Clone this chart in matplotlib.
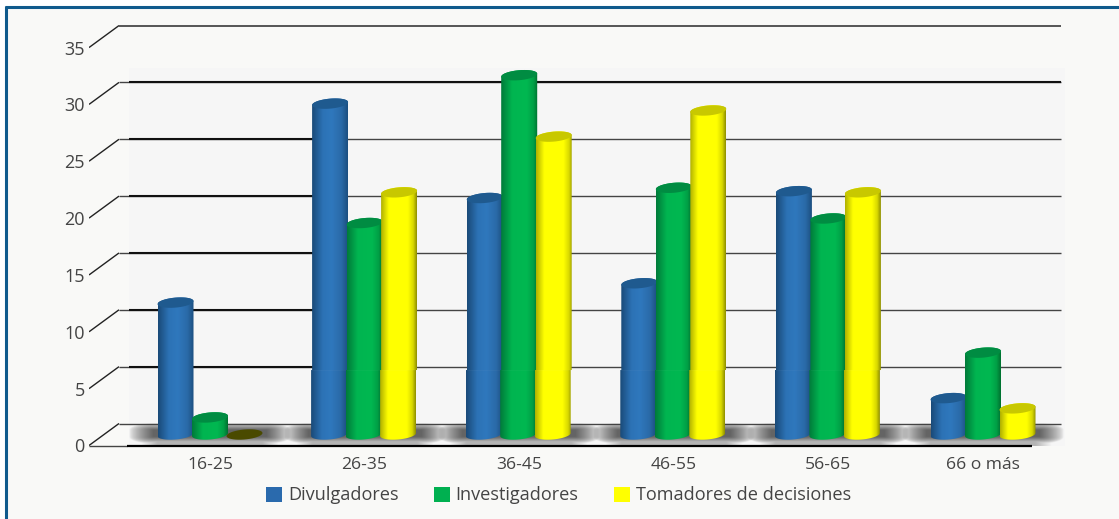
#!/usr/bin/env python

import numpy as np
import matplotlib
matplotlib.use('Agg')
import matplotlib.pyplot as plt
from matplotlib.colors import LinearSegmentedColormap
from matplotlib.lines import Line2D
from matplotlib.patches import PathPatch, Polygon, Rectangle
from matplotlib.path import Path

categories = ['16-25', '26-35', '36-45', '46-55', '56-65', '66 o más']
divulgadores = [11.6, 29.1, 20.8, 13.3, 21.4, 3.2]
investigadores = [1.5, 18.6, 31.6, 21.7, 19.0, 7.2]
tomadores = [0.0, 21.3, 26.2, 28.5, 21.3, 2.3]
series_names = ['Divulgadores', 'Investigadores', 'Tomadores de decisiones']
yticks = [0, 5, 10, 15, 20, 25, 30, 35]

W, H = 1119, 519
# pixel geometry of the plot box
LEFT, RIGHT, TOP, BOTTOM = 89, 1065, 19.1, 445.5
PX_PER_CAT = 154.6
PX_PER_VAL = 11.37
CAT0 = 210
DEPTH_X, DEPTH_Y = 30, 22
BAR_W, BAR_STEP = 36, 34.5
FLOOR_Y = 11

plt.rcParams['font.family'] = 'Open Sans'
fig = plt.figure(figsize=(W / 100, H / 100), dpi=100, facecolor='white')

# page with a blue frame on top and left only
fig.add_artist(Rectangle((6 / W, 0), 1, 1 - 7 / H, transform=fig.transFigure,
                         fc='#f9f9f7', ec='none', zorder=-3))
fig.add_artist(Line2D([6 / W, 6 / W], [0, 1 - 6 / H], transform=fig.transFigure,
                      color='#0f5a8c', lw=2.2, zorder=-2, solid_capstyle='butt'))
fig.add_artist(Line2D([5 / W, 1], [1 - 7 / H, 1 - 7 / H], transform=fig.transFigure,
                      color='#0f5a8c', lw=2.2, zorder=-2, solid_capstyle='butt'))

ax = fig.add_axes([LEFT / W, 1 - BOTTOM / H, (RIGHT - LEFT) / W, (BOTTOM - TOP) / H])
ax.patch.set_alpha(0)
for s in ax.spines.values():
  s.set_visible(False)


def cat_px(px):
  return px / PX_PER_CAT


def val_px(px):
  return px / PX_PER_VAL


def x_of(px):
  return (px - CAT0) / PX_PER_CAT


# lighter back panel
ax.add_patch(Rectangle((x_of(129), 0), cat_px(936), val_px(BOTTOM - 68), fc='#f6f6f6', ec='none', zorder=0))

# back wall lines and the slanted ticks
for v in yticks:
  yb = v + val_px(DEPTH_Y)
  ax.plot([x_of(LEFT), x_of(LEFT + DEPTH_X)], [v, yb], color='#222222', lw=1, zorder=1, solid_capstyle='butt')
  ax.plot([x_of(119), x_of(1061)], [yb, yb], color='#555555' if v == 35 else '#444444',
          lw=1.4 if v == 35 else 1.0, zorder=1, solid_capstyle='butt')
  if v not in (0, 35):
    end = 1061 if v == 30 else 313
    ax.plot([x_of(129), x_of(end)], [yb, yb], color='#111111', lw=1.5, zorder=1, solid_capstyle='butt')

# soft shadows on the floor, a blurred box rather than an ellipse
nx, ny = 320, 60
xx, yy = np.meshgrid(np.linspace(-1, 1, nx), np.linspace(-1, 1, ny))
dx = np.clip(np.abs(xx) - 0.7, 0, None) / 0.3
dy = np.clip(np.abs(yy + 0.1) - 0.3, 0, None) / 0.6
alpha = 0.8 * np.clip(1.0 - np.sqrt(dx ** 2 + dy ** 2), 0, 1) ** 0.7
# the floor stays grey down to the axis
band = yy > 0.3
alpha[band] = np.maximum(alpha[band], 0.36 * np.clip((0.85 - np.abs(xx[band])) / 0.2, 0, 1))
shadow = np.zeros((ny, nx, 4))
shadow[..., :3] = 0.25
shadow[..., 3] = alpha
for i in range(len(categories)):
  ax.imshow(shadow, extent=(i - cat_px(81), i + cat_px(81), val_px(0), val_px(22.5)),
            aspect='auto', zorder=2, interpolation='bilinear')

# cylinders
cmaps = [
  LinearSegmentedColormap.from_list('blue', [(0, '#1a4a78'), (0.3, '#2c72b5'), (0.55, '#2f78bd'), (0.82, '#2a6aa8'), (1, '#1c4f80')]),
  LinearSegmentedColormap.from_list('green', [(0, '#007a3a'), (0.3, '#00b550'), (0.7, '#00b851'), (0.88, '#00a046'), (1, '#00702f')]),
  LinearSegmentedColormap.from_list('yellow', [(0, '#b0b000'), (0.22, '#ffff00'), (0.75, '#ffff00'), (0.9, '#d8d800'), (1, '#8f8f00')]),
]
top_colors = ['#1f5a8f', '#008c42', '#c8c800']
legend_colors = ['#2a6aad', '#00b050', '#ffff00']
grad = np.linspace(0, 1, 128).reshape(1, -1)
SEAM = 5.67


def ellipse_pts(cx, cy, w, h, tilt, t):
  xs = cx + cat_px(w / 2) * np.cos(t)
  ys = cy + val_px(h / 2) * np.sin(t) + val_px(tilt) * np.cos(t)
  return np.column_stack([xs, ys])


def arc(cx, cy, a, b):
  return ellipse_pts(cx, cy, BAR_W, 10, 1.5, np.linspace(a, b, 40))


def draw_body(cx, y0, y1, curved_bottom, curved_top, cmap, order):
  half = cat_px(BAR_W / 2)
  if curved_bottom:
    low = arc(cx, y0, np.pi, 2 * np.pi)
  else:
    low = np.array([[cx - half, y0], [cx + half, y0]])
  if curved_top:
    up = arc(cx, y1, 0, np.pi)
  else:
    up = np.array([[cx + half, y1], [cx - half, y1]])
  pts = np.vstack([low, up, low[:1]])
  im = ax.imshow(grad, extent=(cx - half, cx + half, y0 - val_px(6), y1 + val_px(6)),
                 cmap=cmap, aspect='auto', zorder=order, vmin=0, vmax=1)
  im.set_clip_path(PathPatch(Path(pts), transform=ax.transData))


def draw_cylinder(cx, value, cmap, top_color, order, joint):
  base = val_px(FLOOR_Y)
  top = base + value
  tpts = arc(cx, top, 0, 2 * np.pi)
  if value <= 0:
    ax.add_patch(Polygon(tpts, closed=True, fc='#4a4a00', ec='none', zorder=order))
    return
  if joint:
    # the picture has a visible joint low on the tall cylinders
    draw_body(cx, base + SEAM, top, False, True, cmap, order)
    draw_body(cx - cat_px(1), base, base + SEAM, True, False, cmap, order + 0.005)
  else:
    draw_body(cx, base, top, True, True, cmap, order)
  ax.add_patch(Polygon(tpts, closed=True, fc=top_color, ec='none', zorder=order + 0.01))


all_series = [divulgadores, investigadores, tomadores]
for i in range(len(categories)):
  for s, values in enumerate(all_series):
    cx = i + cat_px((s - 1) * BAR_STEP)
    draw_cylinder(cx, values[i], cmaps[s], top_colors[s], 3 + s * 0.1, 0 < i < 5)

# front axis line
ax.plot([x_of(LEFT), x_of(127)], [0, 0], color='#444444', lw=1.0, zorder=6, clip_on=False, solid_capstyle='butt')
ax.plot([x_of(127), x_of(1032)], [0, 0], color='#000000', lw=1.6, zorder=6, clip_on=False, solid_capstyle='butt')

ax.set_xlim((LEFT - CAT0) / PX_PER_CAT, (RIGHT - CAT0) / PX_PER_CAT)
ax.set_ylim(0, (BOTTOM - TOP) / PX_PER_VAL)

ax.set_yticks(yticks)
ax.set_xticks(range(len(categories)))
ax.set_xticklabels(categories)
ax.tick_params(axis='y', length=0, pad=3, labelsize=13, labelcolor='#444444')
ax.tick_params(axis='x', length=0, pad=8, labelsize=12.6, labelcolor='#444444')

handles = [Rectangle((0, 0), 1, 1, fc=c, ec='none') for c in legend_colors]
ax.legend(handles, series_names, ncol=3, frameon=False, loc='center', fontsize=13.1,
          bbox_to_anchor=((558.5 - LEFT) / (RIGHT - LEFT), (BOTTOM - 495.5) / (BOTTOM - TOP)),
          handlelength=0.88, handleheight=0.88, handletextpad=0.33, columnspacing=1.92,
          labelcolor='#444444', borderpad=0, borderaxespad=0)

fig.savefig('out.png', dpi=100, facecolor=fig.get_facecolor())
